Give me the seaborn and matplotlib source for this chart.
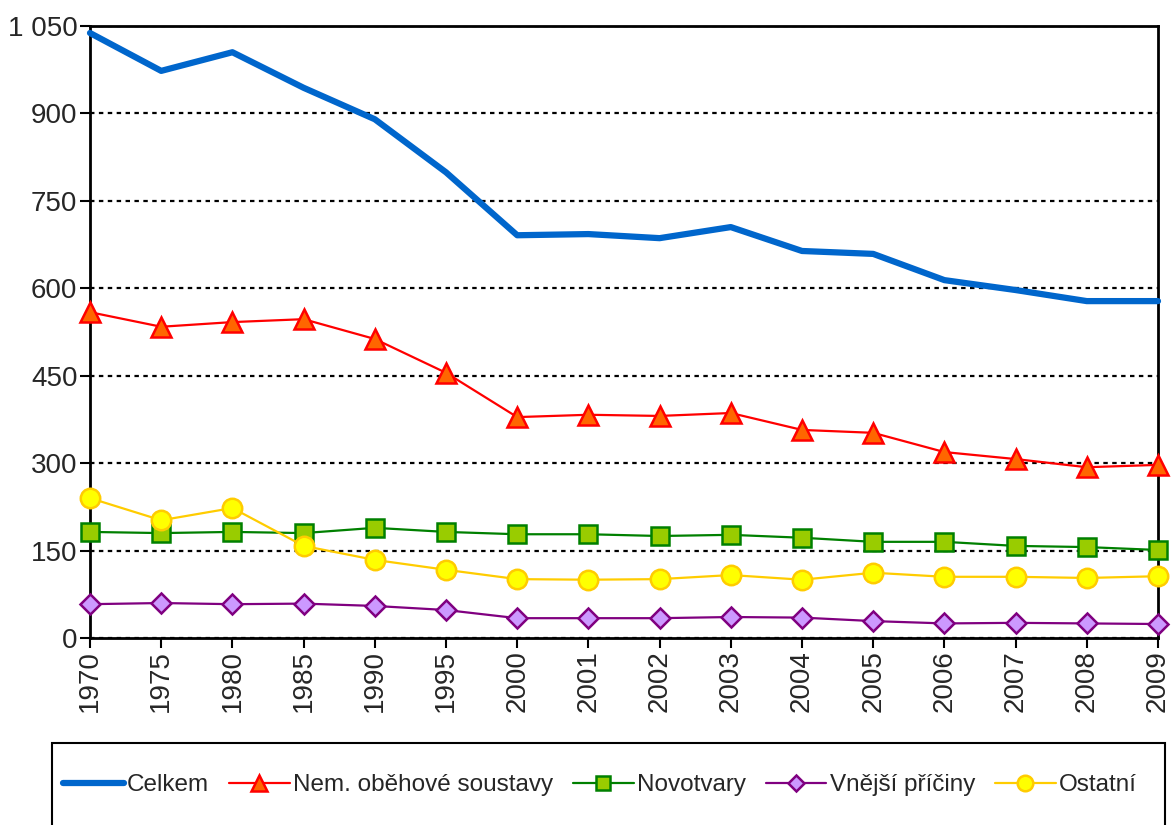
import seaborn as sns
import matplotlib.pyplot as plt
import pandas as pd
from matplotlib.patches import Rectangle
from matplotlib.ticker import FuncFormatter

years = ['1970', '1975', '1980', '1985', '1990', '1995', '2000', '2001',
         '2002', '2003', '2004', '2005', '2006', '2007', '2008', '2009']
celkem = [1038, 973, 1005, 944, 890, 799, 691, 693, 686, 705, 664, 659, 614, 597, 578, 578]
obehove = [559, 534, 542, 547, 513, 455, 379, 383, 381, 386, 357, 352, 319, 307, 293, 297]
novotvary = [182, 180, 182, 180, 189, 182, 178, 178, 175, 177, 172, 165, 165, 158, 156, 151]
vnejsi = [58, 60, 58, 59, 55, 48, 34, 34, 34, 36, 35, 29, 25, 26, 25, 24]
ostatni = [240, 202, 223, 158, 134, 117, 101, 100, 101, 108, 100, 112, 105, 105, 103, 106]

series = {
    'Celkem': celkem,
    'Nem. oběhové soustavy': obehove,
    'Novotvary': novotvary,
    'Vnější příčiny': vnejsi,
    'Ostatní': ostatni,
}
styles = {
    'Celkem': dict(color='#0066CC', lw=4.5, marker=None, solid_capstyle='round'),
    'Nem. oběhové soustavy': dict(color='#FF0000', lw=1.6, marker='^', ms=14,
                                  mfc='#FF6600', mec='#FF0000', mew=1.8),
    'Novotvary': dict(color='#008000', lw=1.6, marker='s', ms=13,
                      mfc='#99CC00', mec='#008000', mew=1.8),
    'Vnější příčiny': dict(color='#800080', lw=1.6, marker='D', ms=10,
                           mfc='#CC99FF', mec='#800080', mew=1.8),
    'Ostatní': dict(color='#FFCC00', lw=1.6, marker='o', ms=14,
                    mfc='#FFFF00', mec='#FFCC00', mew=1.8),
}

rows = []
for name, vals in series.items():
    for i, v in enumerate(vals):
        rows.append({'pos': i, 'year': years[i], 'value': v, 'series': name})
df = pd.DataFrame(rows)

sns.set_style("white")
plt.rcParams['font.family'] = ['Liberation Sans', 'DejaVu Sans']

fig = plt.figure(figsize=(11.71, 8.25), dpi=100)
ax = fig.add_axes([90 / 1171, 1 - 638 / 825, (1158 - 90) / 1171, (638 - 26) / 825])

for name in series:
    st = dict(styles[name])
    sub = df[df['series'] == name]
    sns.lineplot(data=sub, x='pos', y='value', ax=ax, label=name,
                 clip_on=False, zorder=3, **st)

ax.set_xlim(0, len(years) - 1)
ax.set_ylim(0, 1050)
ax.set_yticks(range(0, 1051, 150))
ax.yaxis.set_major_formatter(FuncFormatter(lambda v, p: f'{int(v):,}'.replace(',', ' ')))
ax.set_xticks(range(len(years)))
ax.set_xticklabels(years, rotation=90)
ax.set_xlabel('')
ax.set_ylabel('')
ax.tick_params(axis='both', labelsize=20, length=7, width=1.5, color='black',
               direction='out', bottom=True, left=True, pad=2)
ax.yaxis.grid(True, color='black', linestyle=(0, (2, 2)), lw=1.6)
ax.set_axisbelow(True)
for sp in ax.spines.values():
    sp.set_color('black')
    sp.set_linewidth(2)

ax.get_legend().remove()
handles, labels = ax.get_legend_handles_labels()
fig.legend(handles, labels, loc='center', bbox_to_anchor=(600 / 1171, 1 - 785 / 825),
           ncol=5, frameon=False, fontsize=17.5, handlelength=2.5, markerscale=0.8,
           handletextpad=0.15, columnspacing=0.8)
fig.patches.append(Rectangle((52 / 1171, -0.05), (1165 - 52) / 1171, 0.05 + 1 - 743 / 825,
                             transform=fig.transFigure, fill=False, lw=1.5,
                             edgecolor='black'))

plt.savefig('out.png', dpi=100)
